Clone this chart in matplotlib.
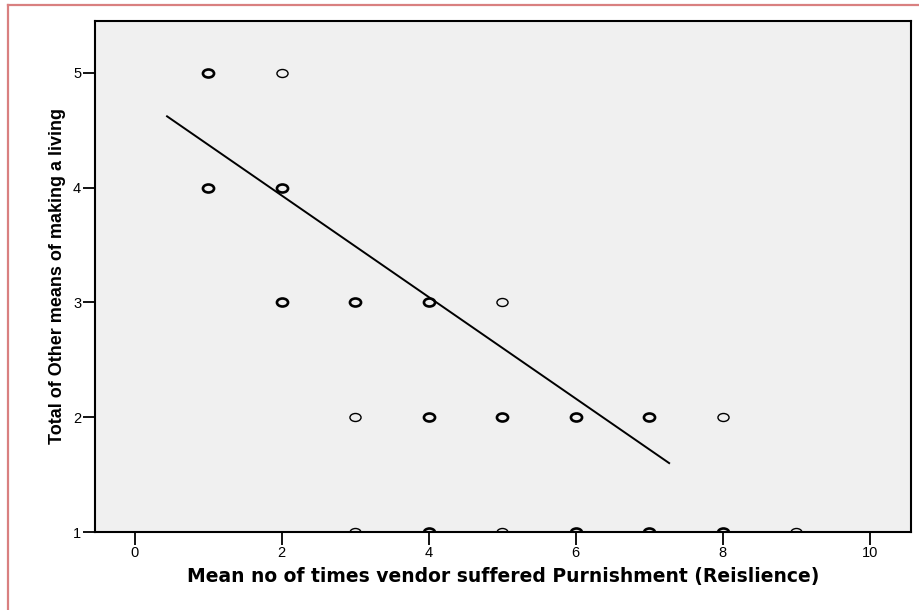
import numpy as np
import matplotlib
matplotlib.use('Agg')
import matplotlib.pyplot as plt
from matplotlib.path import Path
from matplotlib.transforms import Affine2D
from matplotlib import font_manager

# --- data ---
punish_x = [1, 1, 2, 2, 2, 3, 3, 3, 4, 4, 4, 5, 5, 5, 6, 6, 7, 7, 8, 8, 9]
other_y = [5, 4, 5, 4, 3, 3, 2, 1, 3, 2, 1, 3, 2, 1, 2, 1, 2, 1, 2, 1, 1]
n_cases = [2, 2, 1, 2, 2, 2, 1, 1, 2, 2, 2, 1, 2, 1, 2, 2, 2, 2, 1, 2, 1]

fit_x = [0.44, 7.27]
fit_y = [4.62, 1.60]

x_ticks = [0, 2, 4, 6, 8, 10]
y_ticks = [1, 2, 3, 4, 5]

names = {f.name for f in font_manager.fontManager.ttflist}
narrow = 'Liberation Sans Narrow' if 'Liberation Sans Narrow' in names else 'Liberation Sans'
plt.rcParams['font.family'] = ['Liberation Sans', 'DejaVu Sans']

# slightly flattened circle like the SPSS marker
ellipse = Path.unit_circle().transformed(Affine2D().scale(1.0, 0.72))

fig = plt.figure(figsize=(9.19, 6.10), dpi=100)
ax = fig.add_axes([95 / 919, 1 - 532 / 610, (911 - 95) / 919, (532 - 21) / 610])
ax.set_facecolor('#f0f0f0')

for x, y, n in zip(punish_x, other_y, n_cases):
    ax.plot(x, y, marker=ellipse, ms=8, mfc='none', mec='black',
            mew=1.0 if n == 1 else 1.9, linestyle='none', zorder=3)

ax.plot(fit_x, fit_y, color='black', lw=1.4, zorder=2)

ax.set_xlim(-0.54, 10.56)
ax.set_ylim(1, 5.45)
ax.set_xticks(x_ticks)
ax.set_yticks(y_ticks)
ax.tick_params(axis='both', direction='out', length=9, width=1.3, labelsize=10.5, pad=1)
for s in ax.spines.values():
    s.set_linewidth(1.5)

ax.set_xlabel('Mean no of times vendor suffered Purnishment (Reislience)',
              fontsize=13.5, fontweight='bold', family=['DejaVu Sans'], labelpad=5)
ax.set_ylabel('Total of Other means of making a living',
              fontsize=13, fontweight='bold', family=[narrow, 'DejaVu Sans'], labelpad=5)

# reddish frame around the picture (top and left visible)
fig.add_artist(plt.Line2D([8 / 919, 1], [1 - 5 / 610] * 2, color='#d98080', lw=1.6))
fig.add_artist(plt.Line2D([8 / 919] * 2, [0, 1 - 5 / 610], color='#d98080', lw=1.6))

fig.savefig('out.png', dpi=100)
